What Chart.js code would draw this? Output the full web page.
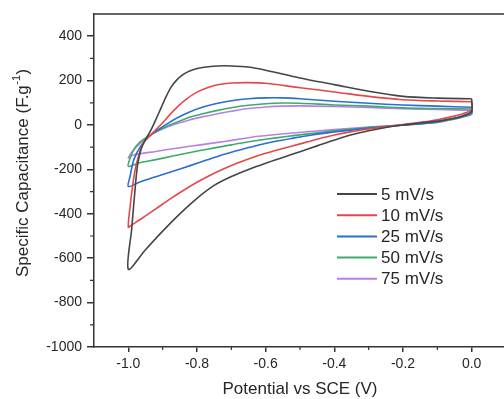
<!DOCTYPE html>
<html><head><meta charset="utf-8">
<script src="https://cdn.jsdelivr.net/npm/chart.js@4"></script>
<style>
html,body{margin:0;padding:0;background:#fff;overflow:hidden;}
#wrap{position:relative;width:512px;height:399px;}
</style></head><body>
<div id="wrap"><canvas id="c" width="512" height="399"></canvas></div>
<script>
const seriesLabels = ['5 mV/s', '10 mV/s', '25 mV/s', '50 mV/s', '75 mV/s'];
const seriesColors = ['#454545', '#e5484a', '#2a6fd0', '#3dab6c', '#b880e6'];

const potential5 = [0,-0.1,-0.2,-0.3,-0.4,-0.5,-0.6,-0.65,-0.7,-0.74, -0.78,-0.81,-0.83,-0.845,-0.86,-0.875,-0.89,-0.905,-0.92,-0.935, -0.948,-0.958,-0.966,-0.974,-0.981,-0.99,-1.0, -0.95,-0.9,-0.85,-0.8,-0.75,-0.7,-0.65,-0.6,-0.55,-0.5, -0.45,-0.4,-0.35,-0.3,-0.25,-0.2,-0.15,-0.1,-0.05,-0.02, 0,0];
const capacitance5 = [118,121,129,152,182,212,247,261,266,266, 260,250,237,222,201,172,128,76,24,-25, -60,-90,-125,-190,-300,-465,-650, -562,-478,-400,-330,-272,-232,-200,-172,-146,-120, -94,-68,-44,-26,-11,0,9,18,30,45, 62,118];

const potential10 = [0,-0.1,-0.2,-0.3,-0.4,-0.5,-0.6,-0.65,-0.7,-0.74, -0.77,-0.8,-0.83,-0.855,-0.877,-0.9,-0.92,-0.935,-0.95,-0.962, -0.972,-0.98,-0.988,-0.995,-1.0, -0.99,-0.96,-0.92,-0.88,-0.84,-0.8,-0.76,-0.72,-0.68,-0.64, -0.6,-0.55,-0.5,-0.45,-0.4,-0.35,-0.3,-0.25,-0.2,-0.15, -0.1,-0.05,-0.02,0,0];
const capacitance10 = [105,108,114,129,149,168,188,191,189,181, 168,148,118,85,50,10,-22,-45,-68,-100, -150,-200,-280,-370,-460, -450,-420,-378,-335,-295,-258,-225,-196,-170,-147, -127,-106,-85,-64,-45,-30,-18,-7,2,12, 24,40,54,68,105];

const potential25 = [0,-0.1,-0.2,-0.3,-0.4,-0.5,-0.55,-0.6,-0.65,-0.7, -0.74,-0.78,-0.82,-0.85,-0.88,-0.91,-0.935,-0.964,-0.984,-0.995, -1.0, -0.97,-0.92,-0.87,-0.82,-0.77,-0.72,-0.67,-0.62,-0.57, -0.52,-0.47,-0.4,-0.3,-0.2,-0.1,-0.05,-0.02,0,0];
const capacitance25 = [80,85,90,98,107,118,122,122,118,109, 98,82,60,38,12,-18,-45,-96,-156,-232, -277, -259,-233,-208,-183,-157,-132,-110,-90,-73, -59,-46,-31,-14,0,14,30,42,55,80];

const potential50 = [0,-0.1,-0.2,-0.3,-0.4,-0.5,-0.55,-0.6,-0.65,-0.7, -0.74,-0.78,-0.82,-0.85,-0.88,-0.91,-0.935,-0.964,-0.984,-0.995, -1.0, -0.97,-0.92,-0.87,-0.82,-0.77,-0.72,-0.67,-0.62,-0.57, -0.52,-0.47,-0.4,-0.3,-0.2,-0.1,-0.05,-0.02,0,0];
const capacitance50 = [72,74,77,85,90,98,99,96,89,78, 66,52,36,18,0,-22,-45,-74,-111,-150, -187, -171,-156,-140,-124,-109,-95,-81,-69,-58, -48,-39,-26,-11,0,13,28,40,52,72];

const potential75 = [0,-0.1,-0.2,-0.3,-0.4,-0.5,-0.55,-0.6,-0.65,-0.7, -0.74,-0.78,-0.82,-0.85,-0.88,-0.91,-0.935,-0.964,-0.984,-0.995, -1.0, -0.985,-0.92,-0.87,-0.82,-0.77,-0.72,-0.67,-0.62,-0.57, -0.52,-0.47,-0.4,-0.3,-0.2,-0.1,-0.05,-0.02,0,0];
const capacitance75 = [66,70,73,79,83,86,85,81,74,62, 51,38,24,10,-5,-25,-45,-81,-111,-135, -148, -135,-119,-107,-96,-85,-74,-62,-51,-43, -36,-29,-21,-9,0,12,26,38,48,66];

const xTicks = [-1.0, -0.8, -0.6, -0.4, -0.2, 0.0];
const xMinorTicks = [-0.9, -0.7, -0.5, -0.3, -0.1];
const yTicks = [-1000, -800, -600, -400, -200, 0, 200, 400];
const yMinorTicks = [-900, -700, -500, -300, -100, 100, 300];
const xTitle = 'Potential vs SCE (V)';
const yTitleMain = 'Specific Capacitance (F.g';
const yTitleSup = '-1';
const yTitleEnd = ')';

const FONT = '"Liberation Sans", Arial, sans-serif';
const AXIS = '#333333';
const TEXT = '#262626';

const loops = [[potential5, capacitance5], [potential10, capacitance10], [potential25, capacitance25], [potential50, capacitance50], [potential75, capacitance75]];

const decor = {
  id: 'decor',
  afterDraw(chart) {
    const {ctx, chartArea: a, scales: {x, y}} = chart;
    ctx.save();
    ctx.strokeStyle = AXIS; ctx.lineWidth = 1.5;
    ctx.beginPath();
    ctx.moveTo(a.left, a.top); ctx.lineTo(a.right, a.top); ctx.lineTo(a.right, a.bottom);
    ctx.stroke();
    ctx.lineWidth = 1.2;
    ctx.beginPath();
    xMinorTicks.forEach(v => { const p = x.getPixelForValue(v); ctx.moveTo(p, a.bottom); ctx.lineTo(p, a.bottom + 3); });
    yMinorTicks.forEach(v => { const p = y.getPixelForValue(v); ctx.moveTo(a.left, p); ctx.lineTo(a.left - 4, p); });
    ctx.stroke();
    ctx.fillStyle = TEXT;
    ctx.font = '17px ' + FONT;
    ctx.textAlign = 'center'; ctx.textBaseline = 'middle';
    ctx.fillText(xTitle, (a.left + a.right) / 2, 389);
    ctx.save();
    ctx.translate(23, 277);
    ctx.rotate(-Math.PI / 2);
    ctx.textAlign = 'left'; ctx.textBaseline = 'middle';
    ctx.font = '17px ' + FONT;
    ctx.fillText(yTitleMain, 0, 0);
    let w = ctx.measureText(yTitleMain).width;
    ctx.font = '11px ' + FONT;
    ctx.fillText(yTitleSup, w + 0.5, -6);
    w += ctx.measureText(yTitleSup).width + 1;
    ctx.font = '17px ' + FONT;
    ctx.fillText(yTitleEnd, w, 0);
    ctx.restore();
    chart.data.datasets.forEach((ds, i) => {
      const yy = 194 + i * 21.2;
      ctx.strokeStyle = ds.borderColor; ctx.lineWidth = 2;
      ctx.beginPath(); ctx.moveTo(337, yy); ctx.lineTo(377, yy); ctx.stroke();
      ctx.fillStyle = TEXT; ctx.font = '17px ' + FONT;
      ctx.textAlign = 'left'; ctx.textBaseline = 'middle';
      ctx.fillText(ds.label, 381, yy + 1);
    });
    ctx.restore();
  }
};

new Chart(document.getElementById('c'), {
  type: 'scatter',
  data: {
    datasets: seriesLabels.map((lab, i) => ({
      label: lab,
      data: loops[i][0].map((xv, k) => ({x: xv, y: loops[i][1][k]})),
      borderColor: seriesColors[i],
      backgroundColor: seriesColors[i],
      borderWidth: 1.6,
      pointRadius: 0,
      showLine: true,
      tension: 0.3,
      fill: false
    }))
  },
  options: {
    responsive: false,
    animation: false,
    layout: {padding: {top: 14, right: 6, left: 0, bottom: 0}},
    plugins: {legend: {display: false}, tooltip: {enabled: false}},
    scales: {
      x: {
        type: 'linear', min: -1.1, max: 0.1,
        afterBuildTicks: s => { s.ticks = xTicks.map(v => ({value: v})); },
        afterFit: s => { s.height = 52; },
        border: {display: true, color: AXIS, width: 1.5},
        grid: {display: true, drawOnChartArea: false, drawTicks: true, tickLength: 5, color: AXIS, lineWidth: 1.5},
        ticks: {autoSkip: false, maxRotation: 0, padding: 4, color: TEXT, font: {family: FONT, size: 14},
          callback: v => Number(v).toFixed(1)}
      },
      y: {
        type: 'linear', min: -1000, max: 500,
        afterBuildTicks: s => { s.ticks = yTicks.map(v => ({value: v})); },
        afterFit: s => { s.width = 94; },
        border: {display: true, color: AXIS, width: 1.5},
        grid: {display: true, drawOnChartArea: false, drawTicks: true, tickLength: 7, color: AXIS, lineWidth: 1.5},
        ticks: {padding: 5, color: TEXT, font: {family: FONT, size: 14},
          callback: v => String(v)}
      }
    }
  },
  plugins: [decor]
});
</script>
</body></html>
